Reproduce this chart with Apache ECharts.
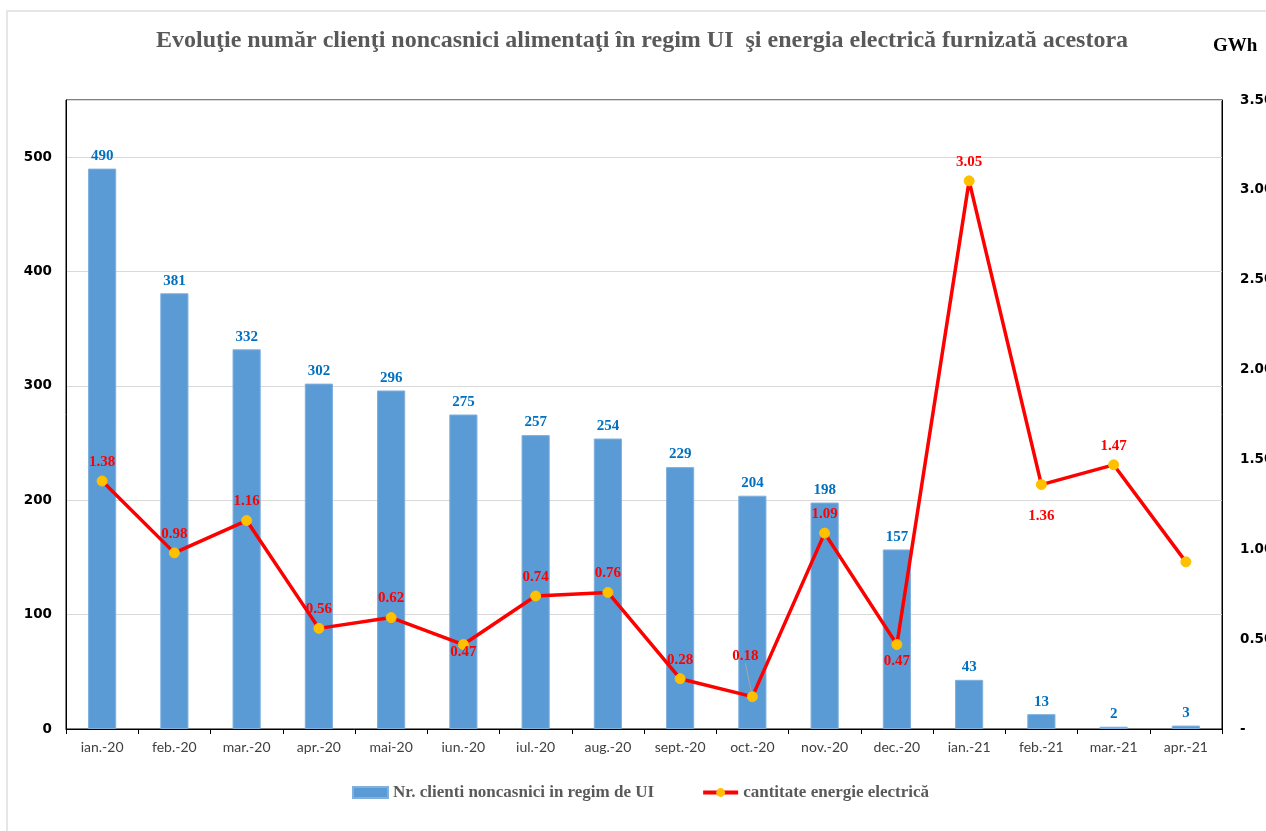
<!DOCTYPE html>
<html>
<head>
<meta charset="utf-8">
<title>Evoluţie număr clienţi noncasnici</title>
<script src="https://cdn.jsdelivr.net/npm/echarts@6/dist/echarts.min.js"></script>
<style>
  html, body { margin: 0; padding: 0; background: #fff; }
  #chart { width: 1266px; height: 831px; }
</style>
</head>
<body>
<div id="chart"></div>
<script>
// Months on the category axis
const months = ['ian.-20', 'feb.-20', 'mar.-20', 'apr.-20', 'mai-20', 'iun.-20', 'iul.-20', 'aug.-20',
  'sept.-20', 'oct.-20', 'nov.-20', 'dec.-20', 'ian.-21', 'feb.-21', 'mar.-21', 'apr.-21'];

// Number of non-household customers supplied under last-resort regime (UI)
const clientCounts = [490, 381, 332, 302, 296, 275, 257, 254, 229, 204, 198, 157, 43, 13, 2, 3];

// Electricity supplied to them, GWh
const energyGWh = [1.38, 0.98, 1.16, 0.56, 0.62, 0.47, 0.74, 0.76, 0.28, 0.18, 1.09, 0.47, 3.05, 1.36, 1.47, 0.93];

const titleText = 'Evoluţie număr clienţi noncasnici alimentaţi în regim UI  şi energia electrică furnizată acestora';
const unitText = 'GWh';
const barName = 'Nr. clienti noncasnici in regim de UI';
const lineName = 'cantitate energie electrică';

// Label placement for the energy values (index -> position / distance); the last month carries no label
const energyLabelPlacement = {
  5: { position: 'bottom', distance: -5 },
  11: { position: 'bottom', distance: 4 },
  13: { position: 'bottom', distance: 19 }
};
const energyLabelHidden = { 15: true };
const energyLabelMoved = { 9: { dx: -7, dy: -22 } };

const serif = '"Liberation Serif", "Times New Roman", serif';

const energyData = energyGWh.map((v, i) => {
  const item = { value: v };
  if (energyLabelHidden[i]) item.label = { show: false };
  else if (energyLabelPlacement[i]) item.label = Object.assign({}, energyLabelPlacement[i]);
  if (energyLabelMoved[i]) item.labelLine = { show: true, lineStyle: { color: '#a6a6a6', width: 1 } };
  return item;
});

const chart = echarts.init(document.getElementById('chart'), null, { renderer: 'canvas' });

chart.setOption({
  animation: false,
  backgroundColor: '#ffffff',
  title: [
    {
      text: titleText,
      left: 637,
      top: 24,
      textAlign: 'center',
      textStyle: { fontFamily: serif, fontWeight: 'bold', fontSize: 24, color: '#595959' }
    },
    {
      text: unitText,
      left: 1208,
      top: 32,
      textStyle: { fontFamily: serif, fontWeight: 'bold', fontSize: 19, color: '#000000' }
    }
  ],
  graphic: [
    {
      type: 'rect',
      silent: true,
      shape: { x: 7, y: 11, width: 1300, height: 900 },
      style: { fill: 'none', stroke: '#e6e6e6', lineWidth: 2 }
    }
  ],
  legend: {
    bottom: 25,
    left: 347,
    itemWidth: 35,
    itemHeight: 11,
    itemGap: 47,
    data: [
      { name: barName, icon: 'rect' },
      { name: lineName, lineStyle: { width: 4 } }
    ],
    textStyle: { fontFamily: serif, fontWeight: 'bold', fontSize: 17, color: '#595959' }
  },
  grid: {
    left: 66,
    right: 44,
    top: 100,
    bottom: 102,
    show: true,
    borderColor: '#000000',
    borderWidth: 1,
    containLabel: false,
    outerBoundsMode: 'none'
  },
  xAxis: {
    type: 'category',
    data: months,
    axisLine: { lineStyle: { color: '#000000', width: 1 } },
    axisTick: { show: true, alignWithLabel: false, length: 5, lineStyle: { color: '#000000' } },
    axisLabel: { fontFamily: 'Lato, "Open Sans", sans-serif', fontSize: 14, color: '#404040', margin: 11 }
  },
  yAxis: [
    {
      type: 'value',
      min: 0,
      max: 550,
      interval: 100,
      position: 'left',
      axisLine: { show: true, lineStyle: { color: '#000000' } },
      axisTick: { show: false },
      splitLine: { show: true, lineStyle: { color: '#d9d9d9', width: 1 } },
      axisLabel: {
        showMaxLabel: false,
        fontFamily: '"DejaVu Sans", Verdana, sans-serif',
        fontWeight: 'bold',
        fontSize: 13.5,
        color: '#000000',
        margin: 14
      }
    },
    {
      type: 'value',
      min: 0,
      max: 3.5,
      interval: 0.5,
      position: 'right',
      axisLine: { show: true, lineStyle: { color: '#000000' } },
      axisTick: { show: false },
      splitLine: { show: false },
      axisLabel: {
        fontFamily: '"DejaVu Sans", Verdana, sans-serif',
        fontWeight: 'bold',
        fontSize: 13.5,
        color: '#000000',
        margin: 18,
        formatter: v => (v === 0 ? '-' : v.toFixed(2))
      }
    }
  ],
  series: [
    {
      name: barName,
      type: 'bar',
      yAxisIndex: 0,
      data: clientCounts,
      barWidth: '39%',
      itemStyle: { color: '#5b9bd5', borderColor: '#7fb0de', borderWidth: 1 },
      label: {
        show: true,
        position: 'top',
        distance: 5,
        fontFamily: serif,
        fontWeight: 'bold',
        fontSize: 15,
        color: '#0070c0'
      },
      z: 2
    },
    {
      name: lineName,
      type: 'line',
      yAxisIndex: 1,
      data: energyData,
      symbol: 'circle',
      symbolSize: 10,
      lineStyle: { color: '#ff0000', width: 3.5 },
      itemStyle: { color: '#ffc000', borderColor: '#ffc000' },
      label: {
        show: true,
        position: 'top',
        distance: 6,
        fontFamily: serif,
        fontWeight: 'bold',
        fontSize: 15,
        color: '#ff0000',
        formatter: p => p.value.toFixed(2)
      },
      labelLayout: params => {
        const m = energyLabelMoved[params.dataIndex];
        return m ? { dx: m.dx, dy: m.dy } : {};
      },
      z: 3
    }
  ]
});
</script>
</body>
</html>
